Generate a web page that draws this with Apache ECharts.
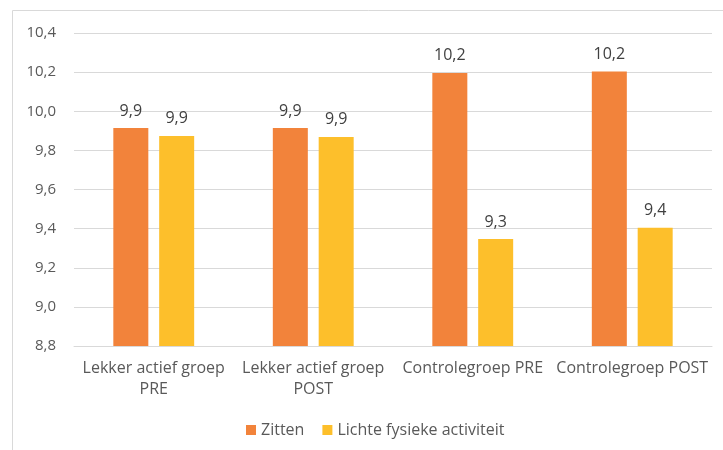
<!DOCTYPE html>
<html>
<head>
<meta charset="utf-8">
<script src="https://cdn.jsdelivr.net/npm/echarts@6/dist/echarts.min.js"></script>
<style>
  * { margin: 0; padding: 0; }
  body { background: #fff; }
</style>
</head>
<body>
<div id="main" style="width: 723px;height: 450px;"></div>
<script>
  var groepen = ['Lekker actief groep\nPRE', 'Lekker actief groep\nPOST', 'Controlegroep PRE', 'Controlegroep POST'];
  var zitten = [9.914, 9.914, 10.196, 10.203];
  var lichteActiviteit = [9.874, 9.869, 9.347, 9.405];
  var yMin = 8.8, yMax = 10.4, yStap = 0.2;

  function komma(v, n) {
    return v.toFixed(n).replace('.', ',');
  }

  var font = '"Open Sans", Lato, sans-serif';
  var chart = echarts.init(document.getElementById('main'));
  chart.setOption({
    animation: false,
    textStyle: { fontFamily: font },
    graphic: [{
      type: 'rect',
      shape: { x: 12.5, y: 10.5, width: 720, height: 450 },
      style: { fill: 'none', stroke: '#d9d9d9', lineWidth: 1 },
      silent: true
    }],
    grid: { left: 74, right: 11, top: 33, bottom: 104 },
    legend: {
      left: 241,
      top: 417,
      itemWidth: 10,
      itemHeight: 10,
      itemGap: 18,
      icon: 'rect',
      textStyle: { fontFamily: font, fontSize: 16, color: '#595959' },
      data: ['Zitten', 'Lichte fysieke activiteit']
    },
    xAxis: {
      type: 'category',
      data: groepen,
      axisLine: { lineStyle: { color: '#d9d9d9' } },
      axisTick: { show: false },
      axisLabel: {
        color: '#595959',
        fontSize: 16,
        fontFamily: font,
        lineHeight: 21,
        margin: 12,
        interval: 0
      }
    },
    yAxis: {
      type: 'value',
      min: yMin,
      max: yMax,
      interval: yStap,
      axisLine: { show: false },
      axisTick: { show: false },
      splitLine: { lineStyle: { color: '#d9d9d9' } },
      axisLabel: {
        color: '#595959',
        fontSize: 15,
        fontFamily: font,
        margin: 18,
        formatter: function (v) { return komma(v, 1); }
      }
    },
    series: [
      {
        name: 'Zitten',
        type: 'bar',
        data: zitten,
        barWidth: 35,
        barGap: '31%',
        itemStyle: { color: '#F2833B' },
        label: {
          show: true,
          position: 'top',
          distance: 9,
          color: '#404040',
          fontSize: 16,
          fontFamily: font,
          formatter: function (p) { return komma(p.value, 1); }
        }
      },
      {
        name: 'Lichte fysieke activiteit',
        type: 'bar',
        data: lichteActiviteit,
        barWidth: 35,
        barGap: '31%',
        itemStyle: { color: '#FDBF2B' },
        label: {
          show: true,
          position: 'top',
          distance: 9,
          color: '#404040',
          fontSize: 16,
          fontFamily: font,
          formatter: function (p) { return komma(p.value, 1); }
        }
      }
    ]
  });
</script>
</body>
</html>
